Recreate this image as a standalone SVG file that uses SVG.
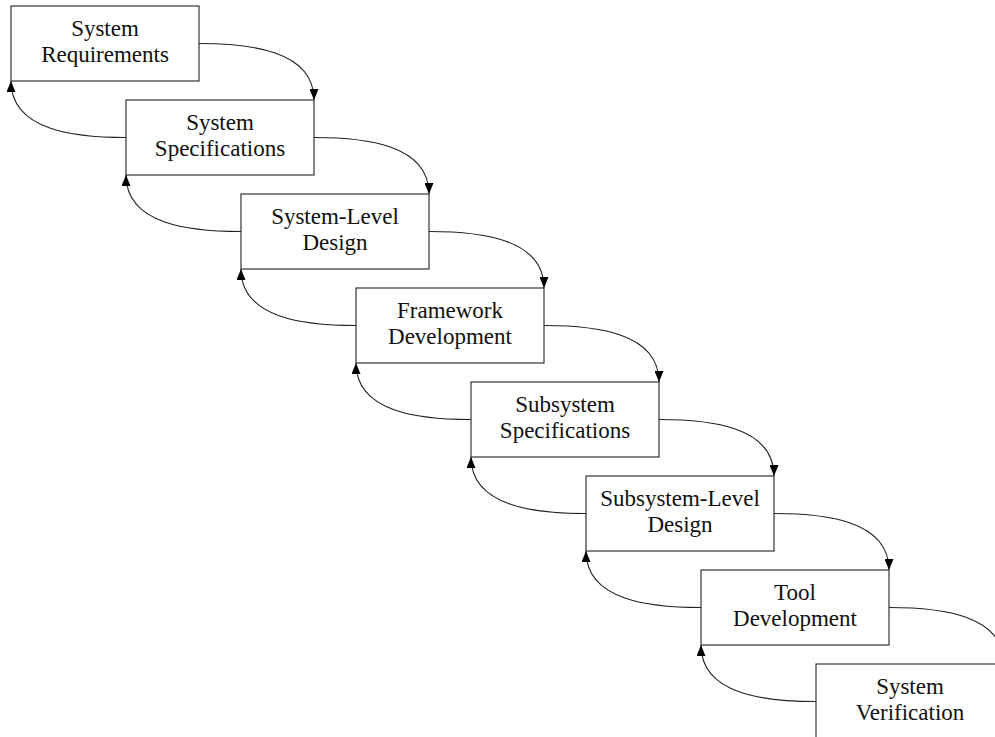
<svg xmlns="http://www.w3.org/2000/svg" width="995" height="737" viewBox="0 0 995 737">
<style>
.box{fill:#fff;stroke:#222;stroke-width:1.1}
.lbl{font-family:"Liberation Serif","DejaVu Serif",serif;font-size:23px;fill:#111;text-anchor:middle}
.c{fill:none;stroke:#222;stroke-width:1.1;marker-end:url(#ah)}
</style>
<defs>
<marker id="ah" markerUnits="userSpaceOnUse" markerWidth="11" markerHeight="9" refX="11" refY="4.5" orient="auto">
<path d="M0,0 L11,4.5 L0,9 z" fill="#000"/>
</marker>
</defs>
<rect width="995" height="737" fill="#fff"/>
<g id="connectors">
<path class="c" d="M199,43.5 C249,43.5 314,50 314,100"/>
<path class="c" d="M314,137.5 C364,137.5 429,144 429,194"/>
<path class="c" d="M429,231.5 C479,231.5 544,238 544,288"/>
<path class="c" d="M544,325.5 C594,325.5 659,332 659,382"/>
<path class="c" d="M659,419.5 C709,419.5 774,426 774,476"/>
<path class="c" d="M774,513.5 C824,513.5 889,520 889,570"/>
<path class="c" d="M889,607.5 C939,607.5 1004,614 1004,664"/>
<path class="c" d="M126,137.5 C76,137.5 11,131 11,81"/>
<path class="c" d="M241,231.5 C191,231.5 126,225 126,175"/>
<path class="c" d="M356,325.5 C306,325.5 241,319 241,269"/>
<path class="c" d="M471,419.5 C421,419.5 356,413 356,363"/>
<path class="c" d="M586,513.5 C536,513.5 471,507 471,457"/>
<path class="c" d="M701,607.5 C651,607.5 586,601 586,551"/>
<path class="c" d="M816,701.5 C766,701.5 701,695 701,645"/>
</g>
<g id="n1"><rect class="box" x="11" y="6" width="188" height="75"/><text class="lbl" x="105" y="36">System</text><text class="lbl" x="105" y="61.5">Requirements</text></g>
<g id="n2"><rect class="box" x="126" y="100" width="188" height="75"/><text class="lbl" x="220" y="130">System</text><text class="lbl" x="220" y="155.5">Specifications</text></g>
<g id="n3"><rect class="box" x="241" y="194" width="188" height="75"/><text class="lbl" x="335" y="224">System-Level</text><text class="lbl" x="335" y="249.5">Design</text></g>
<g id="n4"><rect class="box" x="356" y="288" width="188" height="75"/><text class="lbl" x="450" y="318">Framework</text><text class="lbl" x="450" y="343.5">Development</text></g>
<g id="n5"><rect class="box" x="471" y="382" width="188" height="75"/><text class="lbl" x="565" y="412">Subsystem</text><text class="lbl" x="565" y="437.5">Specifications</text></g>
<g id="n6"><rect class="box" x="586" y="476" width="188" height="75"/><text class="lbl" x="680" y="506">Subsystem-Level</text><text class="lbl" x="680" y="531.5">Design</text></g>
<g id="n7"><rect class="box" x="701" y="570" width="188" height="75"/><text class="lbl" x="795" y="600">Tool</text><text class="lbl" x="795" y="625.5">Development</text></g>
<g id="n8"><rect class="box" x="816" y="664" width="188" height="75"/><text class="lbl" x="910" y="694">System</text><text class="lbl" x="910" y="719.5">Verification</text></g>
</svg>
